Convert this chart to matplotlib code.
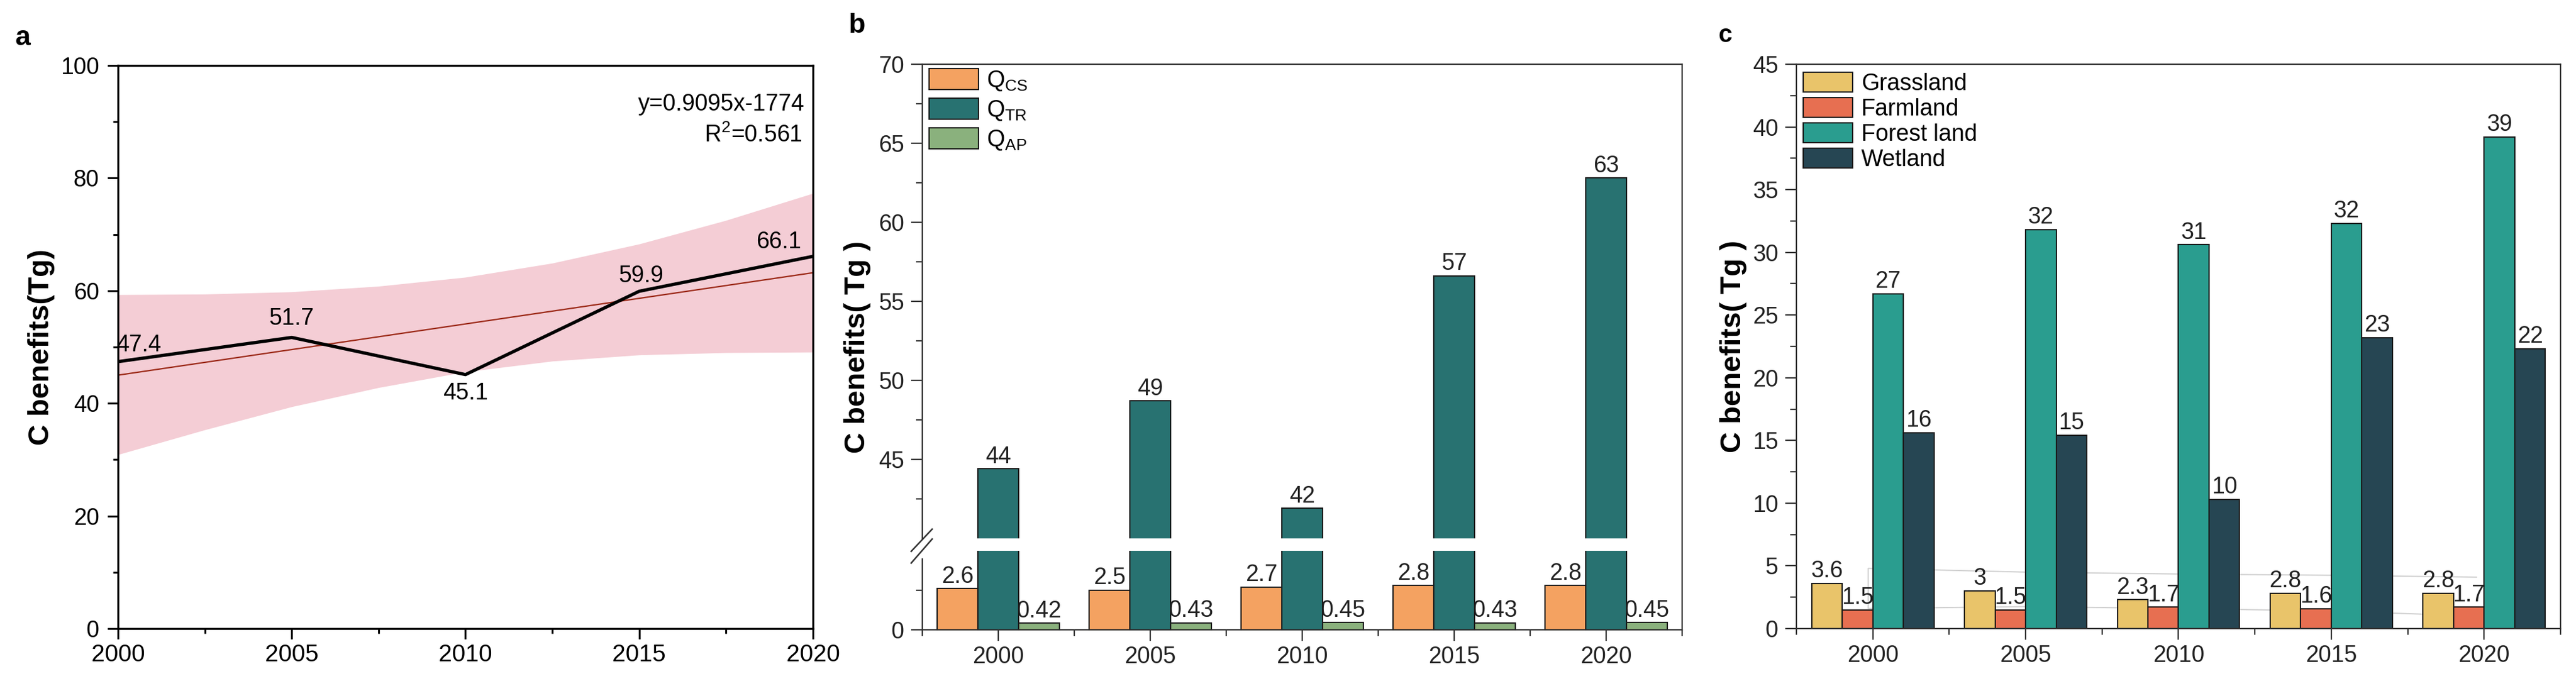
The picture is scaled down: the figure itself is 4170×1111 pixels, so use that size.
"""
Carbon benefits: trend, components and land types
"""
import numpy as np
import matplotlib.pyplot as plt

plt.rcParams['font.family'] = ['Liberation Sans', 'DejaVu Sans']
plt.rcParams['mathtext.fontset'] = 'custom'
plt.rcParams['mathtext.rm'] = 'Liberation Sans'
plt.rcParams['mathtext.it'] = 'Liberation Sans:italic'
plt.rcParams['mathtext.bf'] = 'Liberation Sans:bold'

# ---- data ----
years = [2000, 2005, 2010, 2015, 2020]
year_labels = ['2000', '2005', '2010', '2015', '2020']

# panel a
total = [47.4, 51.7, 45.1, 59.9, 66.1]
fit_slope = 0.9095
fit_icpt = -1774
band_x = [2000, 2002.5, 2005, 2007.5, 2010, 2012.5, 2015, 2017.5, 2020]
band_hi = [59.3, 59.4, 59.8, 60.8, 62.4, 64.9, 68.3, 72.5, 77.3]
band_lo = [30.9, 35.3, 39.4, 42.8, 45.6, 47.5, 48.6, 49.0, 49.1]

# panel b
q_cs = [2.6, 2.5, 2.7, 2.8, 2.8]
q_tr = [44.4, 48.7, 41.9, 56.6, 62.8]
q_ap = [0.42, 0.43, 0.45, 0.43, 0.45]
b_names = [r'Q$_{\mathrm{CS}}$', r'Q$_{\mathrm{TR}}$', r'Q$_{\mathrm{AP}}$']

# panel c
grass = [3.6, 3.0, 2.3, 2.8, 2.8]
farm = [1.5, 1.5, 1.7, 1.6, 1.7]
forest = [26.7, 31.8, 30.6, 32.3, 39.2]
wetland = [15.6, 15.4, 10.3, 23.2, 22.3]
c_names = ['Grassland', 'Farmland', 'Forest land', 'Wetland']
# faint leftover outline in panel c
ghost_x = [3.95, 3, 2, 1, -0.03, -0.03, 1, 2, 3, 3.95]
ghost_y = [1.0, 1.4, 1.6, 1.75, 1.6, 4.8, 4.5, 4.35, 4.25, 4.1]

b_colors = ['#f4a261', '#287271', '#8ab17d']
c_colors = ['#e9c46a', '#e76f51', '#2a9d8f', '#264653']

FS = 27

fig = plt.figure(figsize=(41.7, 11.11), dpi=100)

# ================= panel a =================
ax = fig.add_axes([0.04580, 0.08371, 0.26978, 0.82088])
ax.fill_between(band_x, band_lo, band_hi, color='#f4cdd5', lw=0, zorder=1)
fx = np.array([years[0], years[-1]])
ax.plot(fx, fit_slope * fx + fit_icpt, color='#9c2a18', lw=1.6, zorder=2)
ax.plot(years, total, color='black', lw=3.8, zorder=3)
offs = [(24, 19.5), (0, 21.6), (0, -21.6), (2, 18), (-40, 16.5)]
for x, v, o in zip(years, total, offs):
    ax.annotate(f'{v:.1f}', (x, v), xytext=o, textcoords='offset points',
                ha='center', va='center', fontsize=FS, zorder=4)
ax.text(0.9876, 0.920, 'y=0.9095x-1774', transform=ax.transAxes,
        ha='right', va='baseline', fontsize=FS)
ax.text(0.985, 0.864, r'R$^{2}$=0.561', transform=ax.transAxes,
        ha='right', va='baseline', fontsize=FS)
ax.set_xlim(2000, 2020)
ax.set_ylim(0, 100)
ax.set_xticks(years)
ax.set_xticks(np.arange(2002.5, 2020, 5), minor=True)
ax.set_yticks(np.arange(0, 101, 20))
ax.set_yticks(np.arange(10, 100, 20), minor=True)
for s in ax.spines.values():
    s.set_linewidth(2.4)
ax.tick_params(which='major', length=12, width=2.2, labelsize=FS)
ax.tick_params(which='minor', length=6, width=2.2)
ax.tick_params(axis='y', pad=10)
ax.tick_params(axis='x', pad=6)
for lab in ax.get_xticklabels():
    lab.set_fontsize(FS + 1)

# ================= panel b (broken axis) =================
lo_top, hi_bot, gap = 5.0, 40.0, 0.78


def fwd(y):
    y = np.asarray(y, dtype=float)
    mid = lo_top + (y - lo_top) * gap / (hi_bot - lo_top)
    return np.where(y <= lo_top, y, np.where(y >= hi_bot, y - hi_bot + lo_top + gap, mid))


def inv(t):
    t = np.asarray(t, dtype=float)
    mid = lo_top + (t - lo_top) * (hi_bot - lo_top) / gap
    return np.where(t <= lo_top, t, np.where(t >= lo_top + gap, t - lo_top - gap + hi_bot, mid))


bx = fig.add_axes([0.35803, 0.08191, 0.29496, 0.82448])
bx.set_yscale('function', functions=(fwd, inv))
pos = np.arange(len(years))
w = 0.268
series_b = [q_cs, q_tr, q_ap]
for i, (vals, col, name) in enumerate(zip(series_b, b_colors, b_names)):
    xs = pos + (i - 1) * w
    bx.bar(xs, vals, width=w, color=col, edgecolor='#1a1a1a', lw=1.5,
           label=name, zorder=3)
    for x, v in zip(xs, vals):
        bx.annotate(f'{v:.2g}', (x, v), xytext=(0, 7), textcoords='offset points',
                    ha='center', va='baseline', fontsize=FS, color='#222222', zorder=2.5)
bx.axhspan(lo_top, hi_bot, color='white', lw=0, zorder=3.5)
bx.set_ylim(0, 70)
bx.set_xlim(-0.5, 4.5)
bx.set_yticks([0, 45, 50, 55, 60, 65, 70])
bx.set_yticks([2.5, 42.5, 47.5, 52.5, 57.5, 62.5, 67.5], minor=True)
bx.set_xticks(pos)
bx.set_xticklabels(year_labels)
bx.set_xticks(np.arange(-0.5, 4.6, 1), minor=True)
for s in bx.spines.values():
    s.set_linewidth(1.6)
    s.set_color('#333333')
    s.set_zorder(5)
bx.tick_params(which='major', length=13, width=1.6, color='#333333',
               labelsize=FS, labelcolor='#222222')
bx.tick_params(which='minor', length=7, width=1.6, color='#333333')
bx.tick_params(axis='y', pad=8)
bx.tick_params(axis='x', pad=6)
# break mark on the left spine
bx.add_patch(plt.Rectangle((-0.006, 0.128), 0.012, 0.03, transform=bx.transAxes,
                           color='white', zorder=6, clip_on=False))
for y0, y1 in [(0.1387, 0.178), (0.118, 0.1605)]:
    bx.plot([-0.0146, 0.013], [y0, y1], transform=bx.transAxes, color='#333333',
            lw=1.8, zorder=7, clip_on=False)
bx.legend(loc='upper left', bbox_to_anchor=(0.009, 0.992), frameon=False,
          fontsize=FS, handlelength=2.13, handleheight=1.0, handletextpad=0.35,
          labelspacing=0.25, borderpad=0, borderaxespad=0)

# ================= panel c =================
cx = fig.add_axes([0.69736, 0.08371, 0.29664, 0.82268])
wc = 0.2
series_c = [grass, farm, forest, wetland]
cx.plot(ghost_x, ghost_y, color='#cfcfcf', lw=1.4, zorder=1.5)
for i, (vals, col, name) in enumerate(zip(series_c, c_colors, c_names)):
    xs = pos + (i - 1.5) * wc
    cx.bar(xs, vals, width=wc, color=col, edgecolor='#1a1a1a', lw=1.5,
           label=name, zorder=3)
    for x, v in zip(xs, vals):
        cx.annotate(f'{v:.2g}', (x, v), xytext=(0, 7), textcoords='offset points',
                    ha='center', va='baseline', fontsize=FS, color='#222222', zorder=2.5)
cx.set_ylim(0, 45)
cx.set_xlim(-0.5, 4.5)
cx.set_yticks(np.arange(0, 46, 5))
cx.set_yticks(np.arange(2.5, 45, 5), minor=True)
cx.set_xticks(pos)
cx.set_xticklabels(year_labels)
cx.set_xticks(np.arange(-0.5, 4.6, 1), minor=True)
for s in cx.spines.values():
    s.set_linewidth(1.6)
    s.set_color('#333333')
    s.set_zorder(5)
cx.tick_params(which='major', length=13, width=1.6, color='#333333',
               labelsize=FS, labelcolor='#222222')
cx.tick_params(which='minor', length=7, width=1.6, color='#333333')
cx.tick_params(axis='y', pad=8)
cx.tick_params(axis='x', pad=6)
cx.legend(loc='upper left', bbox_to_anchor=(0.009, 0.986), frameon=False,
          fontsize=FS, handlelength=2.13, handleheight=0.96, handletextpad=0.37,
          labelspacing=0.1, borderpad=0, borderaxespad=0)

# ---- axis titles and panel letters ----
fig.text(0.01607, 0.4941, 'C benefits(Tg)', rotation=90, ha='center', va='center',
         fontsize=34, fontweight='bold')
fig.text(0.33285, 0.4941, 'C benefits( Tg )', rotation=90, ha='center', va='center',
         fontsize=34, fontweight='bold')
fig.text(0.6729, 0.4950, 'C benefits( Tg )', rotation=90, ha='center', va='center',
         fontsize=34, fontweight='bold')
fig.text(0.006, 0.9343, 'a', fontsize=32, fontweight='bold', va='baseline')
fig.text(0.3293, 0.9523, 'b', fontsize=32, fontweight='bold', va='baseline')
fig.text(0.6671, 0.9388, 'c', fontsize=29, fontweight='bold', va='baseline')

fig.savefig('out.png', dpi=100)
